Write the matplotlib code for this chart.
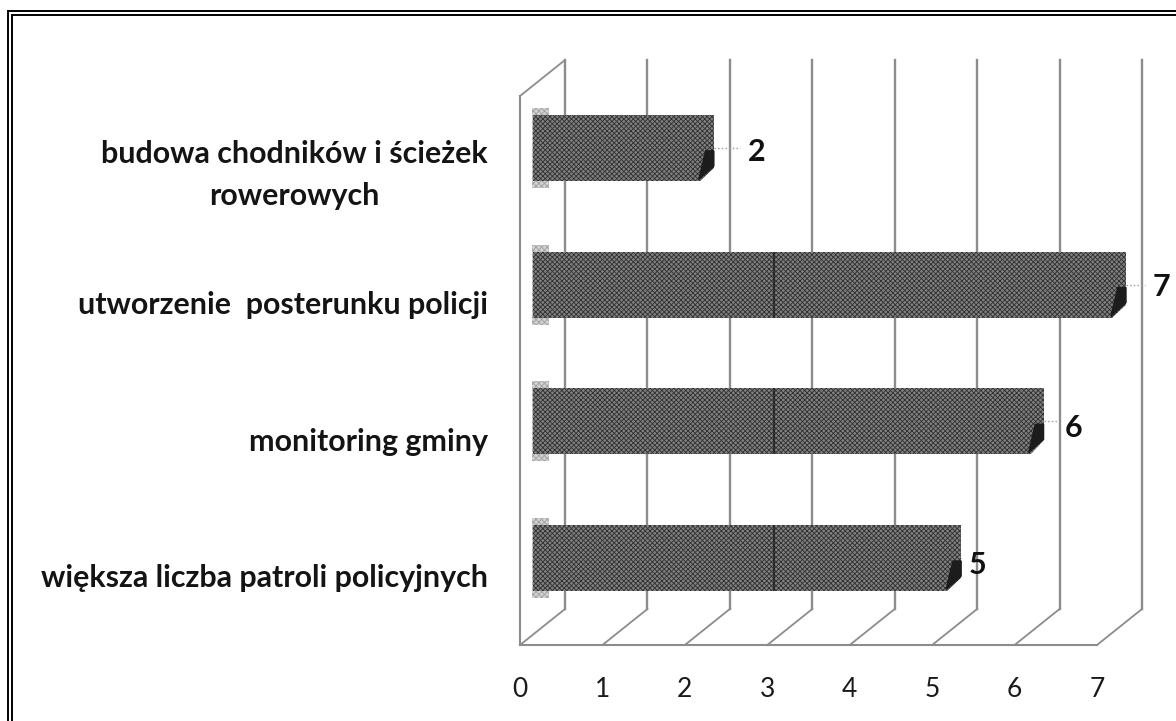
import matplotlib
matplotlib.use("Agg")
import matplotlib.pyplot as plt
import matplotlib.lines as mlines
from matplotlib.transforms import ScaledTranslation
import numpy as np

# bottom to top, same as the y axis
categories = [
    "większa liczba patroli policyjnych",
    "monitoring gminy",
    "utworzenie  posterunku policji",
    "budowa chodników i ścieżek\nrowerowych",
]
values = [5, 6, 7, 2]
x_ticks = [0, 1, 2, 3, 4, 5, 6, 7]

# where the numbers sit relative to the bar end, in pixels (differs per bar in the original)
label_gaps = [7, 21, 27, 34]
label_drop = [7, 7, 2, 4]

W, H = 1176, 721
DPI = 100
FLOOR_Y, TOP_Y = 645, 60
LEFT_X, RIGHT_X = 520, 1097
ROW_PX = 136.7
ROW0_PX = 558

plt.rcParams['font.family'] = ['Lato', 'DejaVu Sans']
plt.rcParams['hatch.linewidth'] = 0.6

fig = plt.figure(figsize=(W / DPI, H / DPI), dpi=DPI)
ax = fig.add_axes([LEFT_X / W, 1 - FLOOR_Y / H, (RIGHT_X - LEFT_X) / W, (FLOOR_Y - TOP_Y) / H])
ax.set_xlim(0, 7)
ax.set_ylim((ROW0_PX - FLOOR_Y) / ROW_PX, (ROW0_PX - TOP_Y) / ROW_PX)
for s in ax.spines.values():
    s.set_visible(False)

x_unit = (RIGHT_X - LEFT_X) / 7
depth_x = 45 / x_unit
depth_y = 36 / ROW_PX
ymin, ymax = ax.get_ylim()

# the 3d box: back wall lines, floor diagonals, floor edge and left edge
grid_col = '#8c8c8c'
for v in x_ticks:
    ax.plot([v + depth_x, v + depth_x], [ymin + depth_y, ymax], color=grid_col, lw=1.7, zorder=1, clip_on=False)
    ax.plot([v, v + depth_x], [ymin, ymin + depth_y], color=grid_col, lw=1.3, zorder=1, clip_on=False)
ax.plot([0, 7], [ymin, ymin], color=grid_col, lw=1.5, zorder=1, clip_on=False)
ax.plot([0, 0], [ymin, ymax - depth_y], color=grid_col, lw=1.5, zorder=1, clip_on=False)
ax.plot([0, depth_x], [ymax - depth_y, ymax], color=grid_col, lw=1.3, zorder=1, clip_on=False)

# bars
y = np.arange(len(categories))
bar_h = 66 / ROW_PX
off = 29 / x_unit
start = 13 / x_unit
ch_x = 15 / x_unit
ch_y = 15 / ROW_PX

# pale smudge at the rounded start of each bar
ax.barh(y, 0.2, left=start - 0.01, height=bar_h + 14 / ROW_PX, color='#d2d2d2', hatch='xxxxxx',
        edgecolor='#a0a0a0', linewidth=0, zorder=2)
bars = ax.barh(y, np.array(values) + off - start, left=start, height=bar_h, color='#808080', hatch='xxxxxxx',
               edgecolor='#303030', linewidth=0, zorder=3)
for b in bars:
    b.set_clip_on(False)

for yi, v, gap, drop in zip(y, values, label_gaps, label_drop):
    xe = v + off
    yb = yi - bar_h / 2
    # chamfered lower right corner
    ax.fill([xe - ch_x, xe + 0.02, xe + 0.02], [yb - 0.01, yb - 0.01, yb + ch_y], color='white', zorder=4,
            clip_on=False)
    # dark end face
    ax.fill([xe - ch_x, xe, xe, xe - 0.1], [yb + ch_y * 0.1, yb + ch_y, yb + ch_y * 2, yb + ch_y * 2],
            color='#1c1c1c', zorder=5, clip_on=False)
    # leader and number
    ax.plot([xe, xe + (gap - 8) / x_unit], [yi, yi], color='#9a9a9a', lw=1, ls=':', zorder=2, clip_on=False)
    ax.text(xe + gap / x_unit, yi - drop / ROW_PX, str(v), fontsize=22, fontweight='bold', color='#111111',
            ha='left', va='center', zorder=6, clip_on=False)

# dark seam that runs through the long bars in the scan
ax.vlines(np.full(3, 3.08), y[:3] - bar_h / 2, y[:3] + bar_h / 2, color='#1e1e1e', lw=1.1, zorder=5)

ax.set_xticks(x_ticks)
ax.set_xticklabels([str(t) for t in x_ticks], fontsize=19, color='#1a1a1a')
ax.tick_params(axis='x', length=0, pad=22.7)
ax.set_yticks(y)
ax.set_yticklabels(categories, fontsize=21.9, fontweight='bold', color='#141414', linespacing=1.6,
                   multialignment='center')
ax.tick_params(axis='y', length=0, pad=23)
down = ScaledTranslation(0, -18 / DPI, fig.dpi_scale_trans)
for lab in ax.get_yticklabels():
    lab.set_transform(lab.get_transform() + down)

# double frame, only top and left survive the crop
for fx, fy in [(8, 11), (12, 15)]:
    fig.add_artist(mlines.Line2D([fx / W, fx / W], [0, 1 - fy / H], color='#000000', lw=1.4))
    fig.add_artist(mlines.Line2D([fx / W, 1], [1 - fy / H, 1 - fy / H], color='#000000', lw=1.4))

fig.savefig("out.png", dpi=DPI)
